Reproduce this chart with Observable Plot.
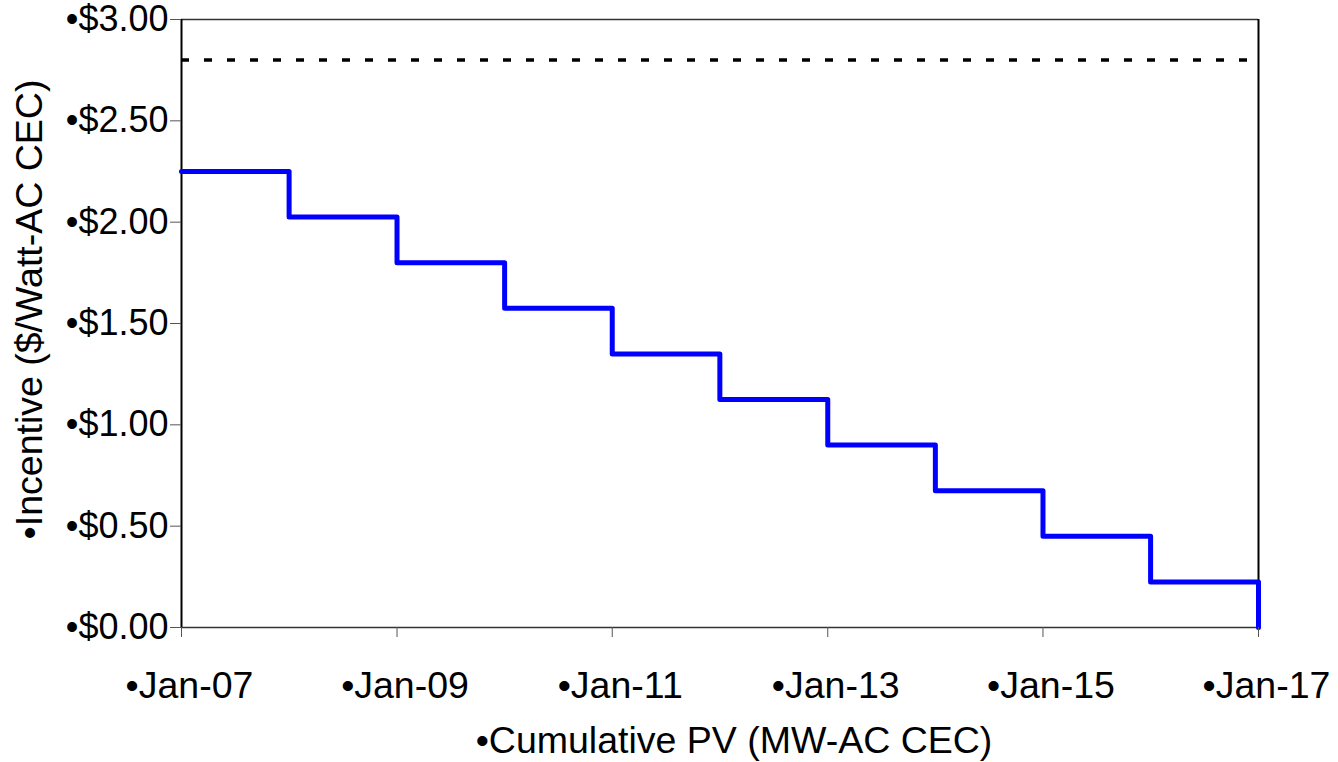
<!DOCTYPE html>
<html>
<head>
<meta charset="utf-8">
<script src="https://cdn.jsdelivr.net/npm/d3@7"></script>
<script src="https://cdn.jsdelivr.net/npm/@observablehq/plot@0.6"></script>
<style>
  html, body { margin: 0; padding: 0; background: #fff; }
  #chart svg { display: block; }
</style>
</head>
<body>
<div id="chart"></div>
<script>
// Data
const years = [2007, 2008, 2009, 2010, 2011, 2012, 2013, 2014, 2015, 2016, 2017];
const incentive = [2.25, 2.025, 1.80, 1.575, 1.35, 1.125, 0.90, 0.675, 0.45, 0.225, 0.0];
const capValue = 2.80;
const xTickYears = [2007, 2009, 2011, 2013, 2015, 2017];
const yTicks = [0, 0.5, 1.0, 1.5, 2.0, 2.5, 3.0];
const xTitle = "•Cumulative PV (MW-AC CEC)";
const yTitle = "•Incentive ($/Watt-AC CEC)";

const steps = years.map((y, i) => ({date: new Date(Date.UTC(y, 0, 1)), value: incentive[i]}));
const xStart = new Date(Date.UTC(years[0], 0, 1));
const xEnd = new Date(Date.UTC(years[years.length - 1], 0, 1));
const xTicks = xTickYears.map(y => new Date(Date.UTC(y, 0, 1)));

const chart = Plot.plot({
  width: 1338,
  height: 762,
  marginLeft: 181,
  marginRight: 80,
  marginTop: 19,
  marginBottom: 135,
  style: {fontFamily: "'Liberation Sans', Arial, sans-serif", fontSize: "36px", color: "#000", background: "#fff"},
  x: {type: "utc", domain: [xStart, xEnd]},
  y: {domain: [0, 3]},
  marks: [
    Plot.ruleY([capValue], {stroke: "#000", strokeWidth: 3.5, strokeDasharray: "8,15"}),
    Plot.ruleY([3], {stroke: "#333", strokeWidth: 1.5}),
    Plot.ruleY([0], {stroke: "#333", strokeWidth: 1.5}),
    Plot.ruleX([xStart, xEnd], {stroke: "#000", strokeWidth: 2}),
    Plot.line(steps, {x: "date", y: "value", curve: "step-after", stroke: "#0000FF", strokeWidth: 5}),
    Plot.axisX({
      ticks: xTicks,
      tickFormat: d => "•" + d3.utcFormat("%b-%y")(d),
      tickSize: 10,
      tickPadding: 34,
      stroke: "#555",
      label: null,
      fontSize: 37.5
    }),
    Plot.axisX({
      ticks: [],
      tickFormat: () => "",
      label: null
    }),
    Plot.axisY({
      ticks: yTicks,
      tickFormat: d => "•$" + d.toFixed(2),
      tickSize: 11,
      tickPadding: 2,
      stroke: "#555",
      label: null,
      fontSize: 36
    }),
    Plot.text([xTitle], {frameAnchor: "bottom", dx: 14, dy: 125, text: d => d, fontSize: 37.5, fill: "#000", textAnchor: "middle"}),
    Plot.text([yTitle], {frameAnchor: "left", dx: -152, dy: -14, rotate: -90, text: d => d, fontSize: 37.5, fill: "#000", textAnchor: "middle"})
  ]
});
// shift x tick labels slightly right, as in the reference
d3.select(chart).selectAll("g[aria-label='x-axis tick label']").attr("transform", function() {
  const t = d3.select(this).attr("transform") || "";
  return t + " translate(8,0)";
});
document.getElementById("chart").appendChild(chart);
</script>
</body>
</html>
